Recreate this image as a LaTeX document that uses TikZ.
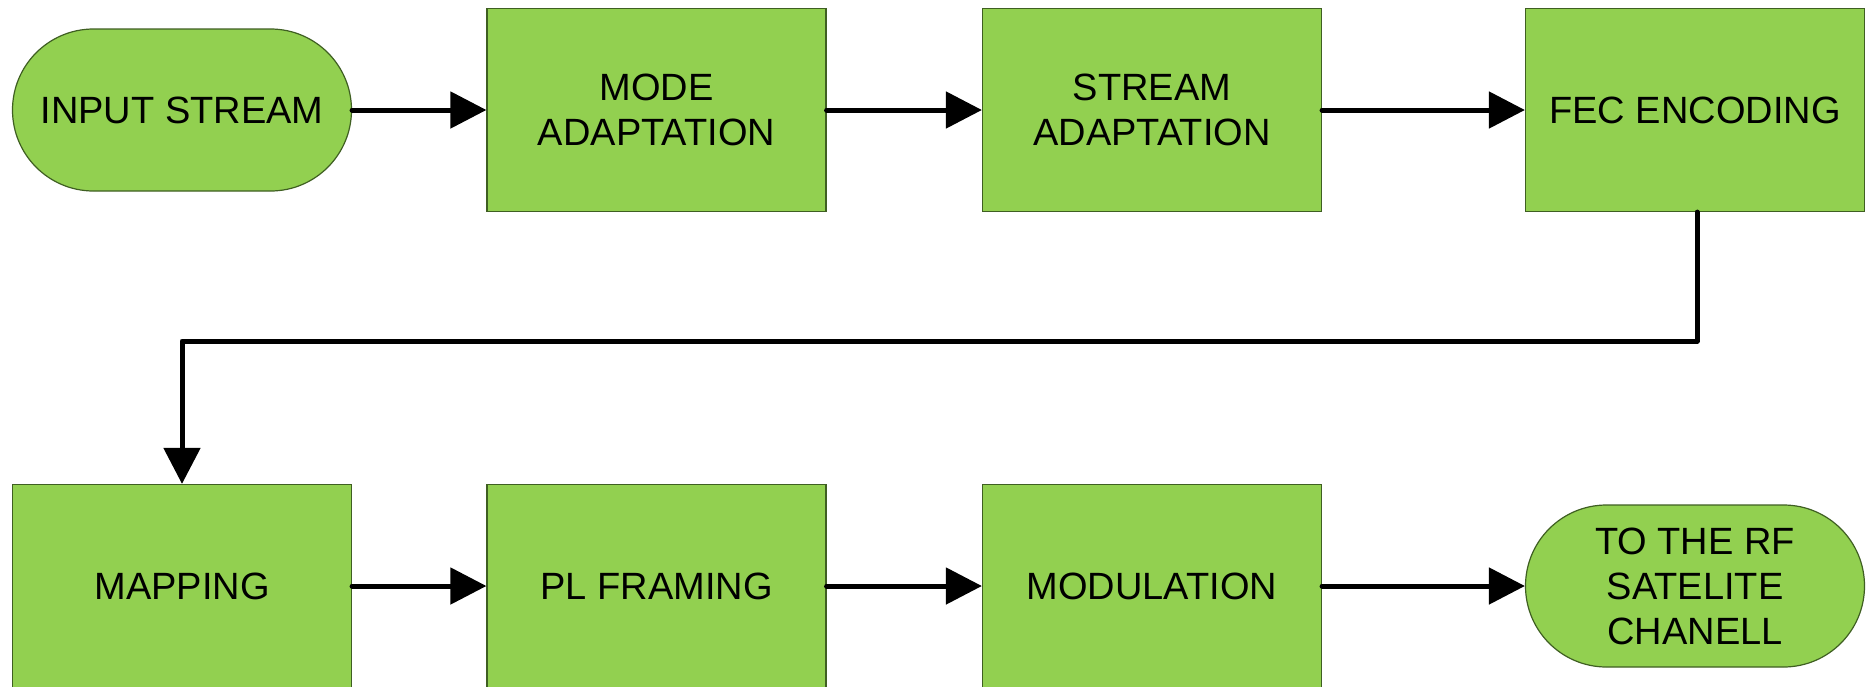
\documentclass[tikz,border=0pt]{standalone}
\usepackage{fontspec}
\setmainfont{Liberation Sans}
\usetikzlibrary{arrows.meta}
\definecolor{boxgreen}{HTML}{92D050}
\definecolor{boxline}{HTML}{3F5F22}
\tikzset{
  blk/.style={draw=boxline, line width=0.6pt, fill=boxgreen, inner sep=0pt,
    minimum width=169.5pt, minimum height=101.5pt, align=center,
    font=\fontsize{19pt}{22.5pt}\selectfont},
  term/.style={blk, minimum height=81pt, rounded corners=40.5pt},
  conn/.style={line width=2.5pt, line cap=round, line join=round,
    -{Triangle[length=18pt,width=18pt]}}
}
\begin{document}
\begin{tikzpicture}[x=0.5pt,y=-0.5pt]
\useasboundingbox (0,0) rectangle (1870,686);
\fill[white] (0,0) rectangle (1870,686);
% top row
\node[term] (in)   at (182,110)    {INPUT STREAM};
\node[blk]  (mode) at (656.5,110)  {MODE\\ADAPTATION};
\node[blk]  (strm) at (1152,110)   {STREAM\\ADAPTATION};
\node[blk]  (fec)  at (1695,110)   {FEC ENCODING};
% bottom row
\node[blk]  (map)  at (182,586)   {MAPPING};
\node[blk]  (plf)  at (656.5,586) {PL FRAMING};
\node[blk]  (mod)  at (1152,586)  {MODULATION};
\node[term] (rf)   at (1695,586)  {TO THE RF\\SATELITE\\CHANELL};
% connectors
\draw[conn] (in.east) -- (mode.west);
\draw[conn] (mode.east) -- (strm.west);
\draw[conn] (strm.east) -- (fec.west);
\coordinate (b1) at (1697,341);
\coordinate (b2) at (182,341);
\draw[conn] (fec.south -| b1) -- (b1) -- (b2) -- (map.north);
\draw[conn] (map.east) -- (plf.west);
\draw[conn] (plf.east) -- (mod.west);
\draw[conn] (mod.east) -- (rf.west);
\end{tikzpicture}
\end{document}
